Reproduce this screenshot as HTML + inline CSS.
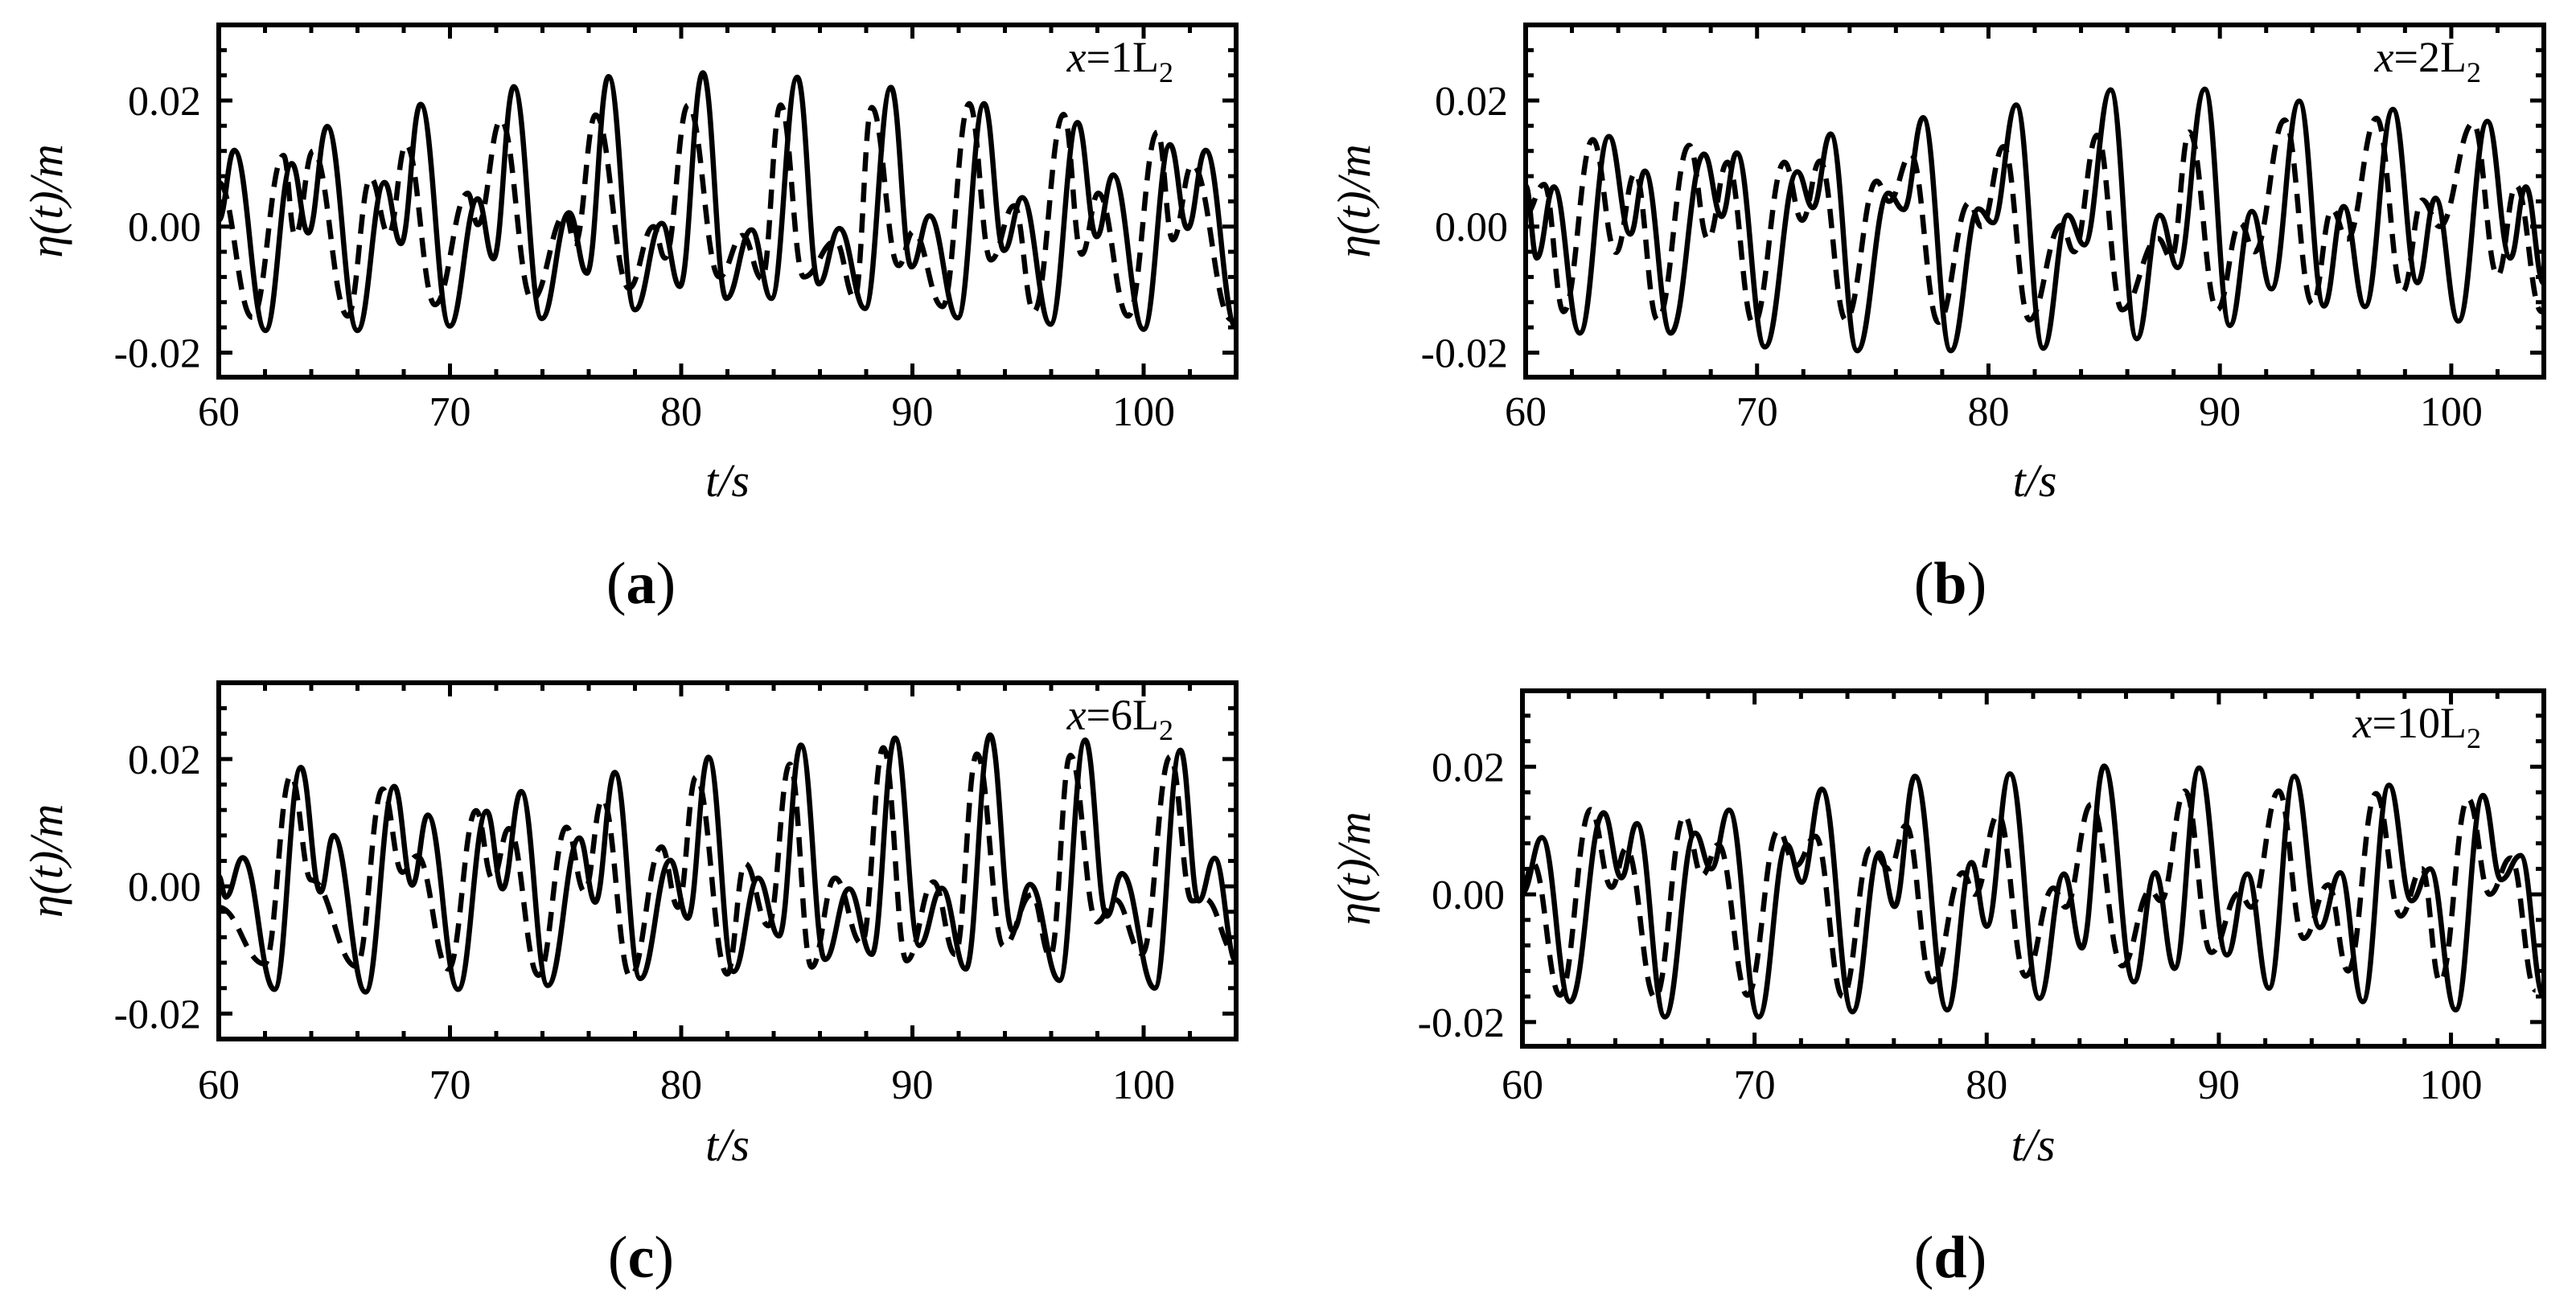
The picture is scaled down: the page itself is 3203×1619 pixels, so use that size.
<!DOCTYPE html>
<html><head><meta charset="utf-8"><style>
html,body{margin:0;padding:0;background:#fff;}
svg{display:block;font-family:"Liberation Serif",serif;}
</style></head><body>
<svg id="fig" width="3203" height="1619" viewBox="0 0 3203 1619" xmlns="http://www.w3.org/2000/svg"></svg>
<script>
// ---- data (extrema) ----
const xTicks = [60, 70, 80, 90, 100];
const yTicks = [-0.02, 0.00, 0.02];
const yTickLabels = ["-0.02", "0.00", "0.02"];
const panelLetters = ["a", "b", "c", "d"];
const panelPositions = ["1", "2", "6", "10"];

const aSolidT = [60,60.67,62.02,63.16,63.87,64.69,66.0,67.17,67.88,68.73,69.99,71.2,71.88,72.76,73.97,75.15,75.92,76.86,78.0,79.16,79.94,80.94,81.95,83.04,83.9,85.02,85.95,86.84,87.95,89.07,89.96,90.74,91.96,93.1,93.96,94.75,95.97,97.14,97.97,98.68,100.0,101.14,101.9,102.68,104];
const aSolidV = [0.001,0.0121,-0.0165,0.0100,-0.0010,0.0159,-0.0165,0.0070,-0.0027,0.0194,-0.0158,0.0044,-0.0051,0.0222,-0.0146,0.0022,-0.0074,0.0238,-0.0132,0.0005,-0.0095,0.0244,-0.0114,-0.0005,-0.0114,0.0237,-0.0091,-0.0003,-0.0130,0.0221,-0.0064,0.0017,-0.0145,0.0195,-0.0038,0.0046,-0.0155,0.0165,-0.0016,0.0082,-0.0163,0.0130,-0.0003,0.0121,-0.016];
const aDashT = [60,61.45,62.8,63.3,64.08,65.58,66.57,67.35,68.1,69.35,70.77,71.2,72.2,73.55,75.0,75.4,76.3,77.74,78.8,79.3,80.3,81.65,82.66,83.5,84.3,85.3,86.67,87.5,88.24,89.4,90.03,91.3,92.46,93.39,94.4,95.25,96.54,97.32,98.04,99.33,100.6,101.26,102.1,103.8];
const aDashV = [0.007,-0.0144,0.0113,-0.0014,0.012,-0.0142,0.0077,-0.0012,0.013,-0.0124,0.0053,0.0003,0.0169,-0.0116,0.002,-0.0027,0.0177,-0.0098,0.0,-0.005,0.0193,-0.008,-0.0014,-0.0083,0.0193,-0.008,-0.0023,-0.0114,0.0189,-0.0062,-0.0008,-0.0127,0.0195,-0.0053,0.0033,-0.0135,0.0178,-0.0044,0.0053,-0.0142,0.015,-0.0021,0.0098,-0.0148];

const bSolidT = [60,60.48,61.22,62.34,63.6,64.52,65.15,66.27,67.71,68.47,69.12,70.34,71.74,72.41,73.18,74.33,75.67,76.34,77.18,78.37,79.57,80.2,81.2,82.37,83.43,84.14,85.28,86.41,87.4,88.18,89.35,90.43,91.38,92.23,93.43,94.5,95.35,96.27,97.48,98.54,99.32,100.31,101.56,102.55,103.22,104];
const bSolidV = [0.0065,-0.005,0.0063,-0.0169,0.0143,-0.0012,0.0088,-0.0169,0.0115,0.0016,0.0117,-0.0191,0.0087,0.003,0.0147,-0.0197,0.0053,0.0027,0.0173,-0.0197,0.0028,0.0006,0.0193,-0.0193,0.0018,-0.0029,0.0217,-0.0178,0.0018,-0.0065,0.0218,-0.0157,0.0024,-0.0099,0.0199,-0.0126,0.0032,-0.0127,0.0186,-0.0089,0.0045,-0.0150,0.0167,-0.005,0.0063,-0.009];
const bDashT = [60,60.8,61.64,62.9,63.9,64.73,65.7,67.07,67.88,68.72,69.85,71.18,71.95,72.72,73.84,75.17,75.7,76.65,77.84,79.17,79.7,80.65,81.77,83.15,83.7,84.7,85.77,87.33,87.9,88.68,89.89,90.88,91.5,92.8,94.0,94.85,95.5,96.77,97.9,98.75,99.5,100.95,102.0,102.8,103.9];
const bDashV = [0.002,0.0067,-0.0135,0.0138,-0.0041,0.0085,-0.0148,0.0129,-0.002,0.0102,-0.0155,0.0102,0.001,0.0104,-0.0148,0.0072,0.004,0.0114,-0.0152,0.0038,0.0,0.0127,-0.0148,0.0002,-0.004,0.0145,-0.0132,-0.0019,-0.005,0.015,-0.0132,0.0005,-0.004,0.0169,-0.0123,0.0027,-0.002,0.0172,-0.0103,0.0042,0.0,0.0164,-0.0078,0.0065,-0.0135];

const cSolidT = [60,60.3,61.04,62.41,63.55,64.4,64.96,66.35,67.59,68.37,69.04,70.35,71.59,72.27,73.08,74.23,75.6,76.28,77.13,78.23,79.53,80.28,81.18,82.26,83.33,84.23,85.18,86.22,87.26,88.24,89.25,90.3,91.27,92.31,93.36,94.33,95.09,96.36,97.47,98.41,99.06,100.48,101.59,102.38,103.07,104];
const cSolidV = [0.0016,-0.0017,0.0045,-0.0162,0.0187,-0.0009,0.008,-0.0166,0.0157,0.0002,0.0112,-0.0162,0.0118,-0.0004,0.0149,-0.0156,0.0076,-0.0025,0.0179,-0.0145,0.0041,-0.005,0.0203,-0.0134,0.0013,-0.0078,0.0222,-0.0115,-0.0004,-0.0107,0.0233,-0.0093,-0.0003,-0.013,0.0238,-0.007,0.0003,-0.0148,0.023,-0.0047,0.002,-0.016,0.0214,-0.0023,0.0044,-0.0118];
const cDashT = [60,61.99,63.12,64.0,65.96,67.09,67.94,68.58,69.93,71.13,71.84,72.55,73.83,75.04,75.82,76.6,77.8,79.15,79.86,80.64,81.99,82.76,83.77,84.7,85.64,86.65,87.81,88.74,89.75,90.91,91.85,92.79,93.94,95.17,95.96,96.83,97.98,98.77,99.93,101.15,102.09,102.67,103.97];
const cDashV = [-0.0033,-0.0122,0.0174,0.001,-0.0126,0.0153,0.0022,0.0048,-0.013,0.0119,0.0012,0.0091,-0.014,0.0093,-0.0008,0.0137,-0.0142,0.0062,-0.0033,0.0172,-0.0138,0.0036,-0.0062,0.0192,-0.0127,0.0013,-0.009,0.0218,-0.0117,0.0007,-0.0107,0.0208,-0.0094,-0.0013,-0.011,0.0206,-0.0056,-0.0021,-0.0106,0.0204,-0.0023,-0.002,-0.0106];

const dSolidT = [60,60.84,62.05,63.5,64.26,64.93,66.14,67.44,68.13,68.9,70.18,71.39,72.03,72.9,74.22,75.38,76.03,76.91,78.3,79.35,80.0,81.0,82.27,83.33,84.1,85.06,86.34,87.26,88.09,89.15,90.35,91.23,92.16,93.25,94.35,95.23,96.2,97.33,98.3,99.1,100.2,101.38,102.16,103.0,104];
const dSolidV = [0.0003,0.0089,-0.0168,0.0128,0.0026,0.0111,-0.0192,0.0096,0.004,0.0132,-0.0192,0.0078,0.0019,0.0165,-0.0184,0.0065,-0.0019,0.0185,-0.0181,0.005,-0.005,0.0189,-0.0163,0.0032,-0.0084,0.0201,-0.0137,0.0034,-0.0116,0.0198,-0.0095,0.0032,-0.0147,0.0185,-0.0052,0.0034,-0.0168,0.0171,-0.001,0.004,-0.0181,0.0155,0.0023,0.0061,-0.016];
const dDashT = [60,60.45,61.62,62.94,63.84,64.47,65.72,66.98,67.74,68.44,69.69,71.02,71.78,72.62,73.8,75.0,75.82,76.52,77.63,78.96,79.5,80.49,81.67,82.87,83.4,84.5,85.84,87.05,87.5,88.54,89.67,90.88,91.4,92.58,93.65,94.71,95.56,96.77,97.83,98.75,99.53,100.74,101.67,102.58,103.64];
const dDashV = [0.001,0.0049,-0.0158,0.0133,0.0011,0.0072,-0.0162,0.0123,0.003,0.0078,-0.0158,0.01,0.0045,0.0091,-0.016,0.0072,0.004,0.0108,-0.0137,0.0034,0.0,0.0125,-0.0128,0.001,-0.002,0.0141,-0.0112,0.0006,-0.001,0.0162,-0.0091,0.0002,-0.002,0.0162,-0.0069,0.0015,-0.012,0.0158,-0.0034,0.004,-0.0137,0.015,0.0,0.0057,-0.015];

const svg = document.getElementById('fig');
const NS = 'http://www.w3.org/2000/svg';
function mk(tag, attrs, parent){const e=document.createElementNS(NS,tag);for(const k in attrs)e.setAttribute(k,attrs[k]);(parent||svg).appendChild(e);return e;}

const panels = [
 {L:272,R:1537,T:31,B:469,ymin:-0.0239,ymax:0.0320,yt:58,lab:42,tit:129,let:256,lx:797,solidT:aSolidT,solidV:aSolidV,dashT:aDashT,dashV:aDashV},
 {L:1897,R:3163,T:31,B:469,ymin:-0.0239,ymax:0.0320,yt:1684,lab:42,tit:129,let:256,lx:2425,solidT:bSolidT,solidV:bSolidV,dashT:bDashT,dashV:bDashV},
 {L:272,R:1537,T:849,B:1292,ymin:-0.0240,ymax:0.0320,yt:58,lab:56,tit:132,let:271,lx:797,solidT:cSolidT,solidV:cSolidV,dashT:cDashT,dashV:cDashV},
 {L:1893,R:3163,T:859,B:1301,ymin:-0.0238,ymax:0.0319,yt:1684,lab:47,tit:123,let:262,lx:2425,solidT:dSolidT,solidV:dSolidV,dashT:dDashT,dashV:dDashV}
];

panels.forEach((p,i)=>{
  const g = mk('g',{});
  
  
  const sx = t => p.L + (t-60)/(104-60)*(p.R-p.L);
  const sy = v => p.B - (v-p.ymin)/(p.ymax-p.ymin)*(p.B-p.T);
  const cp = mk('clipPath',{id:'clip'+i},g);
  mk('rect',{x:p.L,y:p.T,width:p.R-p.L,height:p.B-p.T},cp);
  function pathOf(T,V){
    let d='M'+sx(T[0]).toFixed(1)+','+sy(V[0]).toFixed(1);
    for(let k=1;k<T.length;k++){
      const x0=sx(T[k-1]),y0=sy(V[k-1]),x1=sx(T[k]),y1=sy(V[k]);
      const dx=(x1-x0)*0.42;
      d+=' C'+(x0+dx).toFixed(1)+','+y0.toFixed(1)+' '+(x1-dx).toFixed(1)+','+y1.toFixed(1)+' '+x1.toFixed(1)+','+y1.toFixed(1);
    }
    return d;
  }
  const dash = mk('path',{d:pathOf(p.dashT,p.dashV),fill:'none',stroke:'#000','stroke-width':6.5,'stroke-dasharray':'24,14','clip-path':'url(#clip'+i+')'},g);
  
  
  const sol = mk('path',{d:pathOf(p.solidT,p.solidV),fill:'none',stroke:'#000','stroke-width':6.5,'clip-path':'url(#clip'+i+')'},g);
  
  
  const fr = mk('rect',{x:p.L,y:p.T,width:p.R-p.L,height:p.B-p.T,fill:'none',stroke:'#000','stroke-width':6},g);
  
  
  for(let t=62;t<=104;t+=2){
    const major = xTicks.includes(t);
    const len = major?17:10, x=sx(t);
    mk('line',{x1:x,y1:p.B,x2:x,y2:p.B-len,stroke:'#000','stroke-width':5},g);
    mk('line',{x1:x,y1:p.T,x2:x,y2:p.T+len,stroke:'#000','stroke-width':5},g);
  }
  xTicks.forEach(t=>{
    const tx = mk('text',{x:sx(t),y:p.B+p.lab+18,'font-size':52,'text-anchor':'middle'},g);
    tx.textContent = String(t);
    
    
  });
  for(let k=-6;k<=8;k++){
    const v=k*0.004; if(v<p.ymin||v>p.ymax) continue;
    const major = Math.abs(k%5)===0;
    const len = major?17:10, y=sy(v);
    mk('line',{x1:p.L,y1:y,x2:p.L+len,y2:y,stroke:'#000','stroke-width':5},g);
    mk('line',{x1:p.R,y1:y,x2:p.R-len,y2:y,stroke:'#000','stroke-width':5},g);
  }
  yTicks.forEach((v,j)=>{
    const ty = mk('text',{x:p.L-22,y:sy(v)+18,'font-size':52,'text-anchor':'end'},g);
    ty.textContent = yTickLabels[j];
    
    
  });
  const xt = mk('text',{x:(p.L+p.R)/2,y:p.B+p.tit+19,'font-size':58,'font-style':'italic','text-anchor':'middle'},g);
  xt.textContent='t/s';
  
  
  const cy=(p.T+p.B)/2;
  const yt = mk('text',{x:p.yt,y:cy,'font-size':58,'font-style':'italic','text-anchor':'middle',transform:'rotate(-90 '+p.yt+' '+cy+')',dy:'19'},g);
  yt.textContent='η(t)/m';
  
  
  const an = mk('text',{x:p.R-78,y:p.T+58,'font-size':54,'text-anchor':'end'},g);
  
  
  const s1 = mk('tspan',{'font-style':'italic'},an); s1.textContent='x';
  const s2 = mk('tspan',{},an); s2.textContent='='+panelPositions[i]+'L';
  const s3 = mk('tspan',{'font-size':36,dy:'13'},an); s3.textContent='2';
  const pl = mk('text',{x:p.lx,y:p.B+p.let+25,'font-size':74,'text-anchor':'middle'},g);
  
  
  const q1=mk('tspan',{},pl); q1.textContent='(';
  const q2=mk('tspan',{'font-weight':'bold'},pl); q2.textContent=panelLetters[i];
  const q3=mk('tspan',{},pl); q3.textContent=')';
});
</script>
</body></html>
